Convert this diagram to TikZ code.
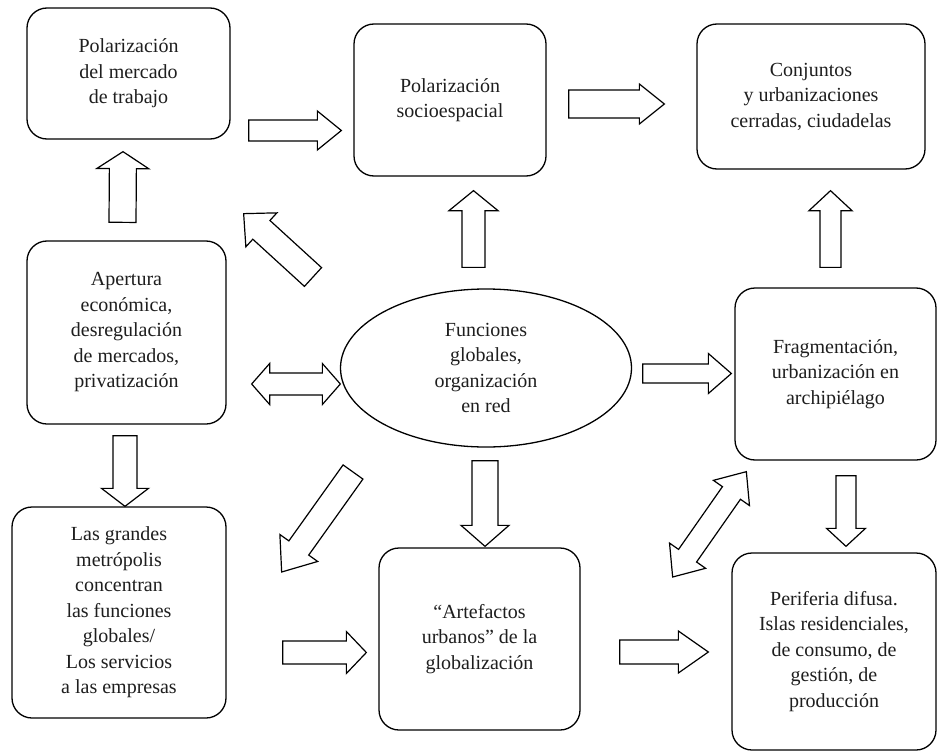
\documentclass[tikz,border=0pt]{standalone}
\usepackage{fontspec}
\setmainfont{Liberation Serif}
\usetikzlibrary{calc,shapes.geometric}
\definecolor{Ink}{HTML}{1E1E1E}

% hollow block arrow: shaft half width, head half width, head length, from, to
\newcommand\blockarrow[5]{%
  \coordinate (ta) at #4; \coordinate (tb) at #5;
  \coordinate (hb) at ($(tb)!#3!(ta)$);
  \draw[blockline] ($(ta)!#1!90:(tb)$) -- ($(hb)!#1!90:(tb)$) -- ($(hb)!#2!90:(tb)$) -- (tb)
    -- ($(hb)!#2!-90:(tb)$) -- ($(hb)!#1!-90:(tb)$) -- ($(ta)!#1!-90:(tb)$) -- cycle;}
\newcommand\twinarrow[5]{%
  \coordinate (ta) at #4; \coordinate (tb) at #5;
  \coordinate (ha) at ($(ta)!#3!(tb)$); \coordinate (hb) at ($(tb)!#3!(ta)$);
  \draw[blockline] (ta) -- ($(ha)!#2!90:(tb)$) -- ($(ha)!#1!90:(tb)$) -- ($(hb)!#1!90:(tb)$)
    -- ($(hb)!#2!90:(tb)$) -- (tb) -- ($(hb)!#2!-90:(tb)$) -- ($(hb)!#1!-90:(tb)$)
    -- ($(ha)!#1!-90:(tb)$) -- ($(ha)!#2!-90:(tb)$) -- cycle;}

\begin{document}
\begin{tikzpicture}[x=1pt,y=-1pt,
  every node/.style={font=\fontsize{20}{25.5}\selectfont,text=Ink,align=center},
  box/.style={draw,line width=1.3pt,rounded corners=20pt,inner sep=0pt},
  blockline/.style={draw,line width=1.2pt,line join=miter,fill=white}]
\useasboundingbox[fill=white] (0,0) rectangle (937,752);

\node[box,minimum width=203,minimum height=131] (mercado) at (128.5,73.5) {Polarización\\del mercado\\de trabajo};
\node[box,minimum width=192,minimum height=152] (socio) at (450,100) {Polarización\\socioespacial};
\node[box,minimum width=228,minimum height=145] (conj) at (811,96.5) {Conjuntos\\y urbanizaciones\\cerradas, ciudadelas};
\node[box,minimum width=199,minimum height=183] (apertura) at (126.5,332.5) {Apertura\\económica,\\desregulación\\de mercados,\\privatización};
\node[ellipse,draw,line width=1.3pt,inner sep=0pt,minimum width=291,minimum height=158] (funciones) at (486,368) {Funciones\\globales,\\organización\\en red};
\node[box,minimum width=201,minimum height=172] (fragment) at (835.5,374) {Fragmentación,\\urbanización en\\archipiélago};
\node[box,minimum width=214,minimum height=211] (metro) at (119,612.5) {Las grandes\\metrópolis\\concentran\\las funciones\\globales/\\Los servicios\\a las empresas};
\node[box,minimum width=201,minimum height=182] (artef) at (479.5,639) {“Artefactos\\urbanos” de la\\globalización};
\node[box,minimum width=204,minimum height=197] (perif) at (834,651.5) {Periferia difusa.\\Islas residenciales,\\de consumo, de\\gestión, de\\producción};

\blockarrow{13.5pt}{26pt}{17pt}{([shift={(-4,-18)}]apertura.north)}{([shift={(-5.5,12)}]mercado.south)}
\blockarrow{10.5pt}{19.5pt}{24pt}{([shift={(18,57)}]mercado.east)}{([shift={(-12,30.5)}]socio.west)}
\blockarrow{12.7pt}{23pt}{24pt}{([shift={(-173,-91)}]funciones.center)}{([shift={(13,74)}]mercado.south east)}
\blockarrow{11.5pt}{24.5pt}{20pt}{([shift={(-12.5,-21)}]funciones.north)}{([shift={(23.5,14)}]socio.south)}
\blockarrow{14pt}{20pt}{25pt}{([shift={(22,4)}]socio.east)}{([shift={(-32,7.5)}]conj.west)}
\blockarrow{10.5pt}{21.5pt}{20pt}{([shift={(-5,-20)}]fragment.north)}{([shift={(19.5,21)}]conj.south)}
\twinarrow{11pt}{20.5pt}{18pt}{([shift={(25,51.5)}]apertura.east)}{([shift={(0.5,16)}]funciones.west)}
\blockarrow{9.5pt}{20pt}{23pt}{([shift={(10.5,5.5)}]funciones.east)}{([shift={(-3,-0.5)}]fragment.west)}
\blockarrow{12pt}{23.5pt}{18pt}{([shift={(-1.5,11)}]apertura.south)}{([shift={(6,0)}]metro.north)}
\blockarrow{12.2pt}{23.2pt}{29.5pt}{([shift={(-133,104)}]funciones.center)}{([shift={(55,-40.5)}]metro.east)}
\blockarrow{13pt}{24pt}{21pt}{([shift={(-1,13)}]funciones.south)}{([shift={(5.5,-1)}]artef.north)}
\blockarrow{11.5pt}{21pt}{20pt}{([shift={(56,40)}]metro.east)}{([shift={(-12,13.5)}]artef.west)}
\twinarrow{11pt}{22pt}{26pt}{([shift={(92,-62)}]artef.east)}{([shift={(12,11)}]fragment.south west)}
\blockarrow{10pt}{19.5pt}{18pt}{([shift={(10.5,15)}]fragment.south)}{([shift={(12,-6)}]perif.north)}
\blockarrow{12pt}{21pt}{30pt}{([shift={(39,13)}]artef.east)}{([shift={(-23,0.5)}]perif.west)}
\end{tikzpicture}
\end{document}
